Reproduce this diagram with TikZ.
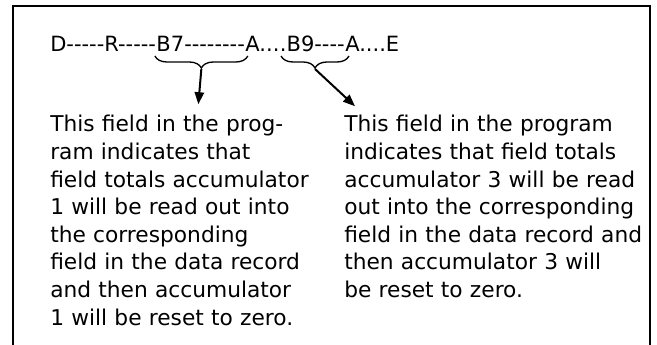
\documentclass[tikz,border=0pt]{standalone}
\usepackage{fontspec}
\setmainfont{DejaVu Sans}
\usetikzlibrary{arrows.meta}
\usetikzlibrary{positioning, calc, decorations.pathreplacing}
\newcommand{\hy}[1]{\foreach \k in {1,...,#1}{-}}

\begin{document}
\begin{tikzpicture}[x=0.75pt, y=-0.75pt,
    hdr/.style={inner sep=0pt, font=\fontsize{15.75}{21.75}\selectfont},
    para/.style={inner sep=0pt, anchor=base west, align=left, text width=#1,
      font=\fontsize{16.3}{20.7}\selectfont},
    curly/.style={decorate, decoration={brace, mirror, amplitude=9pt}, line width=1pt},
    pointer/.style={-{Triangle[length=9pt, width=7pt]}, line width=1.5pt}]
      \useasboundingbox (0,0) rectangle (657,345);
      \draw[line width=1.3pt] (13,345) -- (13,6) -- (650,6) -- (650,345);

      \node[hdr, anchor=base west] (h1) at (50,52) {D\hy{5}R\hy{5}};
      \node[hdr, base right=0pt of h1] (b7) {B7\hy{8}};
      \node[hdr, base right=0pt of b7] (a1) {A...};
      \node[hdr, base right=0pt of a1] (b9) {.B9\hy{4}};
      \node[hdr, base right=0pt of b9] (a2) {A....E};

      \draw[curly] ([xshift=-1pt,yshift=-3pt]b7.base west) -- ([xshift=2pt,yshift=-3pt]b7.base east);
      \draw[curly] ([xshift=1pt,yshift=-3pt]b9.base west) -- ([xshift=3pt,yshift=-3pt]b9.base east);
      \coordinate (tip1) at ($([xshift=-1pt]b7.base west)!.5!([xshift=2pt]b7.base east)+(0,17)$);
      \coordinate (tip2) at ($([xshift=1pt]b9.base west)!.5!([xshift=3pt]b9.base east)+(0,17)$);

      \node[para=210pt] (left) at (50,132) {This field in the prog-\\
        ram indicates that\\
        field totals accumulator\\
        1 will be read out into\\
        the corresponding\\
        field in the data record\\
        and then accumulator\\
        1 will be reset to zero.};
      \node[para=232pt] (right) at (344,132) {This field in the program\\
        indicates that field totals\\
        accumulator 3 will be read\\
        out into the corresponding\\
        field in the data record and\\
        then accumulator 3 will\\
        be reset to zero.};

      \coordinate (end1) at ($(tip1 |- left.north)+(-3,-11)$);
      \coordinate (end2) at ($(right.north west)+(11,-9)$);
      \draw[pointer] (tip1) -- (end1);
      \draw[pointer] (tip2) -- (end2);
\end{tikzpicture}
\end{document}
